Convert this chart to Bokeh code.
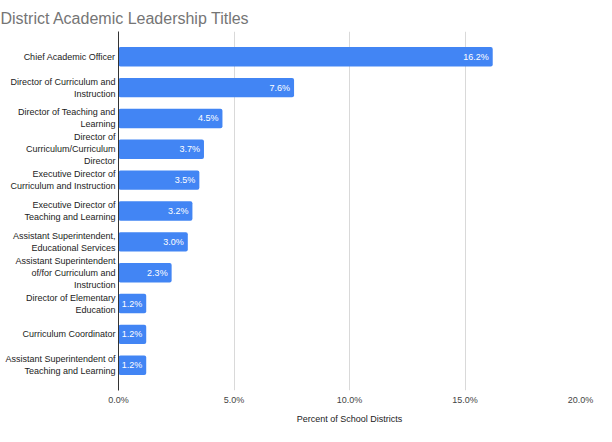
from bokeh.plotting import figure
from bokeh.models import ColumnDataSource, FactorRange, FixedTicker, PrintfTickFormatter, Range1d
from bokeh.embed import file_html
from bokeh.resources import INLINE

titles = [
    "Chief Academic Officer",
    "Director of Curriculum and\nInstruction",
    "Director of Teaching and\nLearning",
    "Director of\nCurriculum/Curriculum\nDirector",
    "Executive Director of\nCurriculum and Instruction",
    "Executive Director of\nTeaching and Learning",
    "Assistant Superintendent,\nEducational Services",
    "Assistant Superintendent\nof/for Curriculum and\nInstruction",
    "Director of Elementary\nEducation",
    "Curriculum Coordinator",
    "Assistant Superintendent of\nTeaching and Learning",
]
percents = [16.2, 7.6, 4.5, 3.7, 3.5, 3.2, 3.0, 2.3, 1.2, 1.2, 1.2]
x_ticks = [0, 5, 10, 15, 20]

labels = [f"{v:.1f}%" for v in percents]
src = ColumnDataSource(dict(cat=titles, val=percents, lab=labels))

FONT = "Liberation Sans"

p = figure(
    width=596, height=426,
    y_range=FactorRange(factors=titles[::-1], range_padding=0.32, range_padding_units="absolute"),
    x_range=Range1d(0, 20),
    output_backend="svg", toolbar_location=None,
    title="District Academic Leadership Titles",
    min_border_left=118, min_border_right=16, min_border_top=31, min_border_bottom=0,
)
p.outline_line_color = None
p.background_fill_color = "white"
p.border_fill_color = "white"

p.title.text_font = FONT
p.title.text_font_size = "16px"
p.title.text_font_style = "normal"
p.title.text_color = "#757575"
p.title.align = "left"
p.title.offset = -118

p.hbar(y="cat", right="val", left=0, height=0.63, source=src,
       fill_color="#4285F4", line_color=None, border_radius=2)

p.text(x="val", y="cat", text="lab", source=src, x_offset=-4,
       text_align="right", text_baseline="middle", text_color="white",
       text_font_size="9px", text_font={"value": FONT})

p.ygrid.grid_line_color = None
p.xgrid.grid_line_color = "#d9d9d9"
p.xgrid.ticker = FixedTicker(ticks=x_ticks)

p.xaxis.ticker = FixedTicker(ticks=x_ticks)
p.xaxis.formatter = PrintfTickFormatter(format="%.1f%%")
p.xaxis.axis_line_color = None
p.xaxis.major_tick_line_color = None
p.xaxis.major_tick_out = 0
p.xaxis.major_tick_in = 0
p.xaxis.minor_tick_line_color = None
p.xaxis.major_label_text_font = FONT
p.xaxis.major_label_text_font_size = "9px"
p.xaxis.major_label_text_color = "#444444"
p.xaxis.major_label_standoff = 4
p.xaxis.axis_label = "Percent of School Districts"
p.xaxis.axis_label_text_font = FONT
p.xaxis.axis_label_text_font_size = "9px"
p.xaxis.axis_label_text_font_style = "normal"
p.xaxis.axis_label_text_color = "#222222"
p.xaxis.axis_label_standoff = 6

p.yaxis.axis_line_color = "#333333"
p.yaxis.major_tick_line_color = None
p.yaxis.major_tick_out = 0
p.yaxis.major_tick_in = 0
p.yaxis.minor_tick_line_color = None
p.yaxis.major_label_text_font = FONT
p.yaxis.major_label_text_font_size = "9px"
p.yaxis.major_label_text_color = "#222222"
p.yaxis.major_label_standoff = 3

open("out.html", "w").write(file_html(p, INLINE))
